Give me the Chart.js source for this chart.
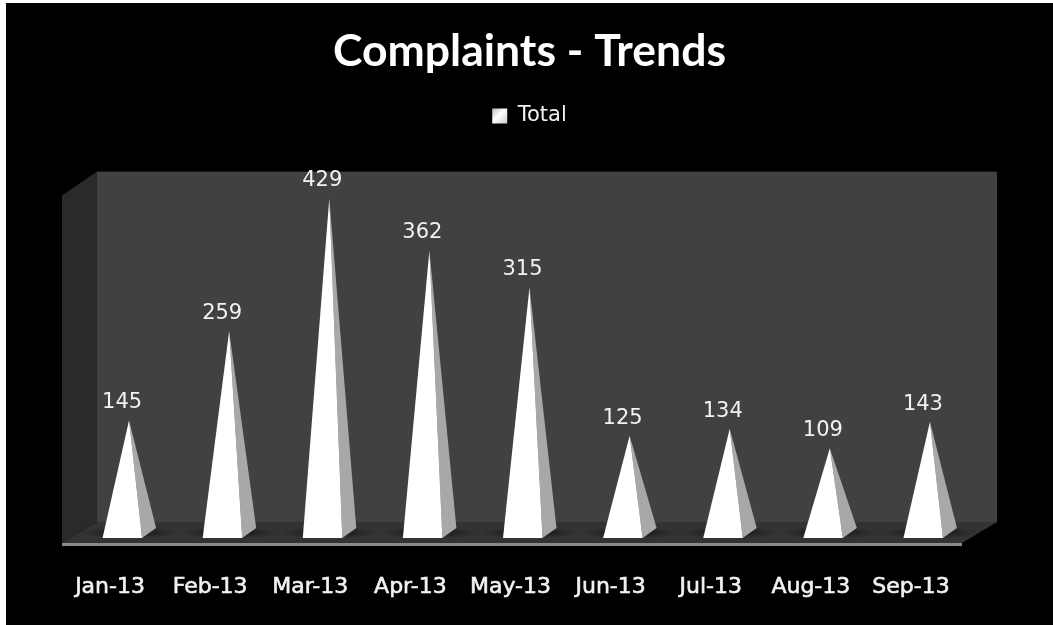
<!DOCTYPE html>
<html lang="en">
<head>
  <meta charset="UTF-8" />
  <title>Complaints - Trends</title>
  <script src="https://cdn.jsdelivr.net/npm/chart.js"></script>
  <style>
    html, body { margin: 0; padding: 0; background: #fff; overflow: hidden; }
    #wrap { position: absolute; left: 6px; top: 3px; width: 1047px; height: 622px; background: #000; }
  </style>
</head>
<body>
  <div id="wrap"><canvas id="trendChart" width="1047" height="622"></canvas></div>
  <script>
    const months = ["Jan-13", "Feb-13", "Mar-13", "Apr-13", "May-13", "Jun-13", "Jul-13", "Aug-13", "Sep-13"];
    const totals = [145, 259, 429, 362, 315, 125, 134, 109, 143];
    const seriesName = "Total";
    const chartTitle = "Complaints - Trends";

    // back wall, side wall and floor of the 3D box
    const box3d = {
      id: "box3d",
      beforeDatasetsDraw(chart) {
        const ctx = chart.ctx, a = chart.chartArea;
        const base = chart.scales.y.getPixelForValue(0);
        const top = chart.scales.y.getPixelForValue(463);
        const backL = a.left + 18, backR = a.right + 17, backY = base - 11.5;
        const frontL = backL - 35, frontR = backR - 35, frontY = base + 9.5;

        ctx.save();
        ctx.fillStyle = "#414141";
        ctx.fillRect(backL, top, backR - backL, backY - top);

        ctx.fillStyle = "#2a2a2a";
        poly(ctx, [[frontL, top + 24], [backL, top], [backL, backY], [frontL, frontY]]);

        ctx.fillStyle = "#333333";
        poly(ctx, [[backL, backY], [backR, backY], [frontR, frontY], [frontL, frontY]]);

        ctx.fillStyle = "#8a8a8a";
        ctx.fillRect(frontL, frontY, frontR - frontL, 3);

        // soft shadow on the floor beside each pyramid
        chart.getDatasetMeta(0).data.forEach(bar => {
          ctx.save();
          ctx.translate(bar.x, base - 1);
          ctx.scale(1, 0.12);
          const g = ctx.createRadialGradient(0, 0, 10, 0, 0, 50);
          g.addColorStop(0, "rgba(15,15,15,0.9)");
          g.addColorStop(1, "rgba(30,30,30,0)");
          ctx.fillStyle = g;
          ctx.beginPath();
          ctx.arc(0, 0, 50, 0, Math.PI * 2);
          ctx.fill();
          ctx.restore();
        });
        ctx.restore();
      }
    };

    // pyramids and value labels, placed from the bar elements
    const pyramids = {
      id: "pyramids",
      afterDatasetsDraw(chart) {
        const ctx = chart.ctx;
        const meta = chart.getDatasetMeta(0);
        ctx.save();
        meta.data.forEach((bar, i) => {
          const fy = bar.base + 4.5, by = bar.base - 5.5;
          ctx.fillStyle = "#a8a8a8";
          poly(ctx, [[bar.x + 13, fy], [bar.x + 27, by], [bar.x, bar.y]]);
          ctx.fillStyle = "#ffffff";
          poly(ctx, [[bar.x - 26.5, fy], [bar.x + 13, fy], [bar.x, bar.y]]);

          ctx.fillStyle = "#f2f2f2";
          ctx.font = "21px 'DejaVu Sans'";
          ctx.textAlign = "center";
          ctx.textBaseline = "middle";
          ctx.fillText(totals[i], bar.x - 7, bar.y - 17.5);
        });
        ctx.restore();
      }
    };

    function poly(ctx, pts) {
      ctx.beginPath();
      pts.forEach((p, i) => i ? ctx.lineTo(p[0], p[1]) : ctx.moveTo(p[0], p[1]));
      ctx.closePath();
      ctx.fill();
    }

    new Chart(document.getElementById("trendChart"), {
      type: "bar",
      data: {
        labels: months,
        datasets: [{ label: seriesName, data: totals, backgroundColor: "rgba(0,0,0,0)" }]
      },
      options: {
        responsive: false,
        animation: false,
        layout: { padding: { left: 73, right: 73, top: 14, bottom: 0 } },
        plugins: {
          tooltip: { enabled: false },
          title: {
            display: true,
            text: chartTitle,
            color: "#ffffff",
            font: { family: "Lato", size: 44.5, weight: "bold" },
            padding: { top: 8, bottom: 3.5 }
          },
          legend: {
            display: true,
            labels: {
              color: "#f2f2f2",
              font: { family: "DejaVu Sans", size: 21 },
              boxWidth: 15,
              boxHeight: 15,
              padding: 23.5,
              generateLabels(chart) {
                const g = chart.ctx.createLinearGradient(486, 104, 501, 119);
                g.addColorStop(0, "#b0b0b0");
                g.addColorStop(0.5, "#ffffff");
                g.addColorStop(1, "#d0d0d0");
                return [{ text: seriesName, fillStyle: g, strokeStyle: g, lineWidth: 0, datasetIndex: 0, fontColor: "#f2f2f2" }];
              }
            }
          }
        },
        scales: {
          y: { display: false, min: 0, max: 508 },
          x: {
            grid: { display: false, drawTicks: false },
            border: { display: false },
            afterFit(scale) { scale.height = 91.5; },
            ticks: {
              color: "#f2f2f2",
              font: { family: "DejaVu Sans", size: 22 },
              textStrokeColor: "#f2f2f2",
              textStrokeWidth: 0.6,
              padding: 41,
              labelOffset: -19,
              maxRotation: 0,
              autoSkip: false
            }
          }
        }
      },
      plugins: [box3d, pyramids]
    });
  </script>
</body>
</html>
